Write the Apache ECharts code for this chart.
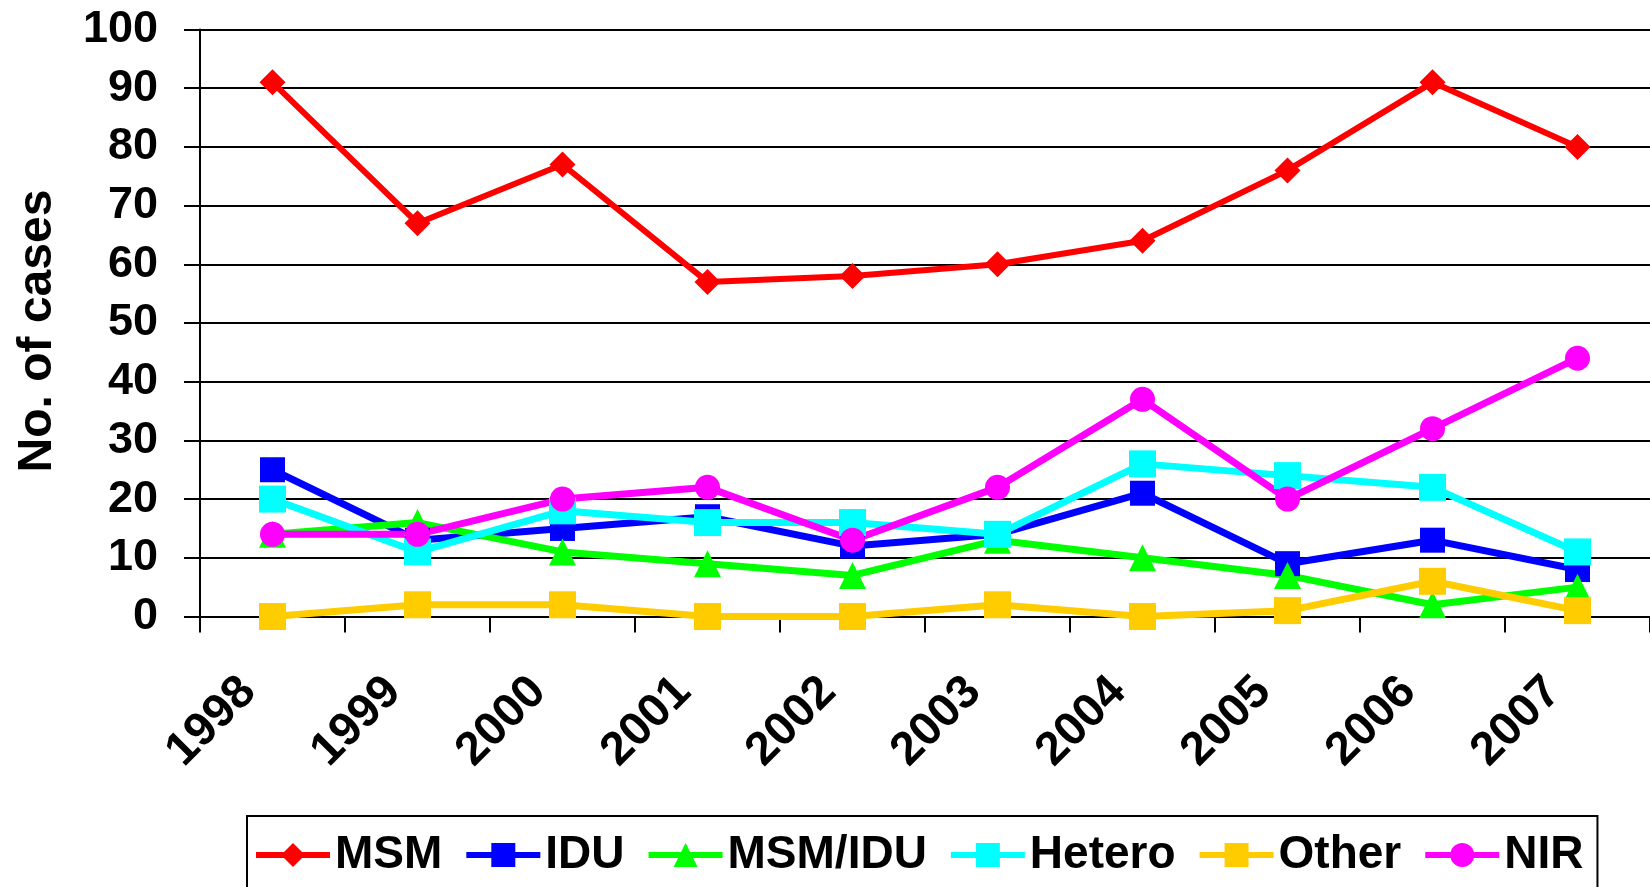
<!DOCTYPE html>
<html>
<head>
<meta charset="utf-8">
<script src="https://cdn.jsdelivr.net/npm/echarts@6/dist/echarts.min.js"></script>
<style>
  html, body { margin: 0; padding: 0; background: #fff; }
  #container { width: 1650px; height: 887px; }
</style>
</head>
<body>
<div id="container"></div>
<script type="text/javascript">
// chart data
var years = ['1998', '1999', '2000', '2001', '2002', '2003', '2004', '2005', '2006', '2007'];
var msm = [91, 67, 77, 57, 58, 60, 64, 76, 91, 80];
var idu = [25, 13, 15, 17, 12, 14, 21, 9, 13, 8];
var msmIdu = [14, 16, 11, 9, 7, 13, 10, 7, 2, 5];
var hetero = [20, 11, 18, 16, 16, 14, 26, 24, 22, 11];
var other = [0, 2, 2, 0, 0, 2, 0, 1, 6, 1];
var nir = [14, 14, 20, 22, 13, 22, 37, 20, 32, 44];
var yTicks = [0, 10, 20, 30, 40, 50, 60, 70, 80, 90, 100];

var font = 'Liberation Sans';

function line(name, data, color, symbol, size, width) {
    return {
        name: name,
        type: 'line',
        data: data,
        symbol: symbol,
        symbolSize: size,
        showAllSymbol: true,
        lineStyle: { color: color, width: width },
        itemStyle: { color: color },
        emphasis: { disabled: true },
        animation: false
    };
}

var dom = document.getElementById("container");
var myChart = echarts.init(dom);
var option = {
    animation: false,
    grid: { left: 200, top: 29.5, width: 1460, bottom: 270.5, containLabel: false },
    legend: {
        left: 247, top: 816,
        orient: 'horizontal',
        borderColor: '#000', borderWidth: 2,
        padding: [14, 14, 20, 6],
        itemWidth: 74, itemHeight: 30, itemGap: 21,
        lineStyle: { width: 6 },
        textStyle: { fontFamily: font, fontWeight: 'bold', fontSize: 46, color: '#000', lineHeight: 50 },
        data: ['MSM', 'IDU', 'MSM/IDU', 'Hetero', 'Other', 'NIR']
    },
    xAxis: {
        type: 'category',
        data: years,
        boundaryGap: true,
        axisLine: { lineStyle: { color: '#000', width: 2 } },
        axisTick: { show: true, length: 16, lineStyle: { color: '#000', width: 2 } },
        axisLabel: {
            rotate: 45, margin: 44, padding: [0, 34, 0, 0],
            fontFamily: font, fontWeight: 'bold', fontSize: 47, color: '#000'
        }
    },
    yAxis: {
        type: 'value',
        min: yTicks[0], max: yTicks[yTicks.length - 1], interval: 10,
        name: 'No. of cases',
        nameLocation: 'middle', nameGap: 138,
        nameTextStyle: { fontFamily: font, fontWeight: 'bold', fontSize: 48, color: '#000', padding: [0, 16, 0, 0] },
        axisLine: { show: true, lineStyle: { color: '#000', width: 2 } },
        axisTick: { show: true, length: 16, lineStyle: { color: '#000', width: 2 } },
        axisLabel: { margin: 42, fontFamily: font, fontWeight: 'bold', fontSize: 45, color: '#000' },
        splitLine: { show: true, lineStyle: { color: '#000', width: 2 } }
    },
    series: [
        line('MSM', msm, '#FF0000', 'diamond', 26, 6),
        line('IDU', idu, '#0000FF', 'rect', 25, 7),
        line('MSM/IDU', msmIdu, '#00FF00', 'triangle', 27, 7),
        line('Hetero', hetero, '#00FFFF', 'rect', 27, 7),
        line('Other', other, '#FFCC00', 'rect', 27, 7),
        line('NIR', nir, '#FF00FF', 'circle', 25, 7)
    ]
};
if (option && typeof option === "object") {
    myChart.setOption(option, true);
}
</script>
</body>
</html>
